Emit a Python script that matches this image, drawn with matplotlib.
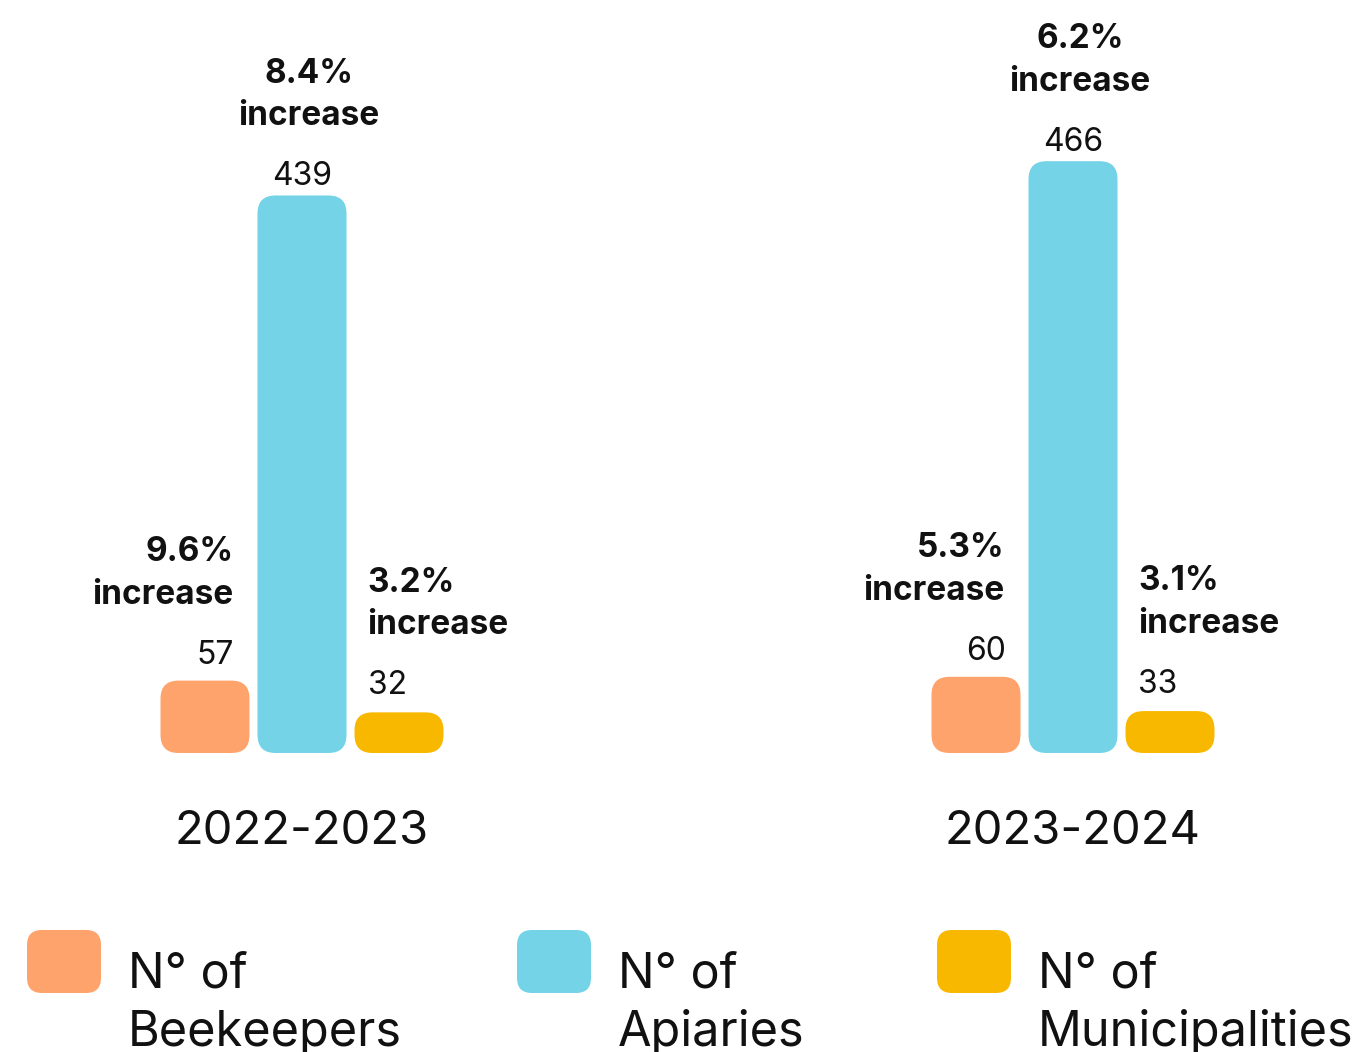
import matplotlib.pyplot as plt
from matplotlib.patches import FancyBboxPatch

plt.rcParams['font.family'] = ['Inter', 'DejaVu Sans']

# =========================================
# DATA
# =========================================
periods = ['2022-2023', '2023-2024']
beekeepers = [57, 60]
apiaries = [439, 466]
municipalities = [32, 33]
beekeepers_pct = ['9.6%', '5.3%']
apiaries_pct = ['8.4%', '6.2%']
municipalities_pct = ['3.2%', '3.1%']
series_labels = ['N° of\nBeekeepers', 'N° of\nApiaries', 'N° of\nMunicipalities']
colors = ['#FFA36C', '#74D3E6', '#F9B800']

# =========================================
# LAYOUT (pixels)
# =========================================
W, H = 1360, 1052
group_x = [302, 1073]
bar_step = 97
bar_w = 89
base_px = 753          # baseline from top
px_per_unit = 1.27
radius = 18
PT = 0.72              # points per pixel at dpi 100

fig = plt.figure(figsize=(W / 100, H / 100), dpi=100)
ax = fig.add_axes([0, 0, 1, 1])
ax.set_xlim(0, W)
ax.set_ylim(-(H - base_px) / px_per_unit, base_px / px_per_unit)
ax.axis('off')

lay = fig.add_axes([0, 0, 1, 1], frameon=False)
lay.set_xlim(0, W)
lay.set_ylim(H, 0)
lay.axis('off')

series = [beekeepers, apiaries, municipalities]
pcts = [beekeepers_pct, apiaries_pct, municipalities_pct]

for g, gx in enumerate(group_x):
    for k in range(3):
        cx = gx + (k - 1) * bar_step
        v = series[k][g]
        h_px = v * px_per_unit
        r = min(radius, h_px / 2)
        patch = FancyBboxPatch((cx - bar_w / 2, 0), bar_w, v,
                               boxstyle=f"round,pad=0,rounding_size={r}",
                               mutation_aspect=1 / px_per_unit,
                               facecolor=colors[k], edgecolor='none')
        ax.add_patch(patch)

        # value label
        val_dx = [10, 0, -12][k]
        val_gap = [17, 10, 18][k]
        ax.annotate(str(v), (cx, v), xytext=(val_dx * PT, val_gap * PT),
                    textcoords='offset points', ha='center', va='baseline',
                    fontsize=23, color='#111111')

        # percentage label (last line baseline 60px above value baseline)
        if k == 0:
            px, ha = cx + bar_w / 2 - 16, 'right'
        elif k == 1:
            px, ha = cx + 7, 'center'
        else:
            px, ha = cx - bar_w / 2 + 13, 'left'
        ax.annotate(pcts[k][g] + '\nincrease', (px, v),
                    xytext=(0, (val_gap + 60) * PT),
                    textcoords='offset points', ha=ha, va='baseline',
                    fontsize=24, fontweight='bold', color='#111111',
                    linespacing=1.43)

    lay.text(gx, 844, periods[g], ha='center', va='baseline',
             fontsize=34, color='#111111')

# =========================================
# LEGEND
# =========================================
leg_x = [27, 517, 937]
for k, lx in enumerate(leg_x):
    sq = FancyBboxPatch((lx, 930), 74, 63,
                        boxstyle="round,pad=0,rounding_size=15",
                        facecolor=colors[k], edgecolor='none')
    lay.add_patch(sq)
    lines = series_labels[k].split('\n')
    for i, line in enumerate(lines):
        lay.text(lx + 101, 988 + 58 * i, line, ha='left', va='baseline',
                 fontsize=35, color='#111111')

fig.savefig('out.png', dpi=100)
